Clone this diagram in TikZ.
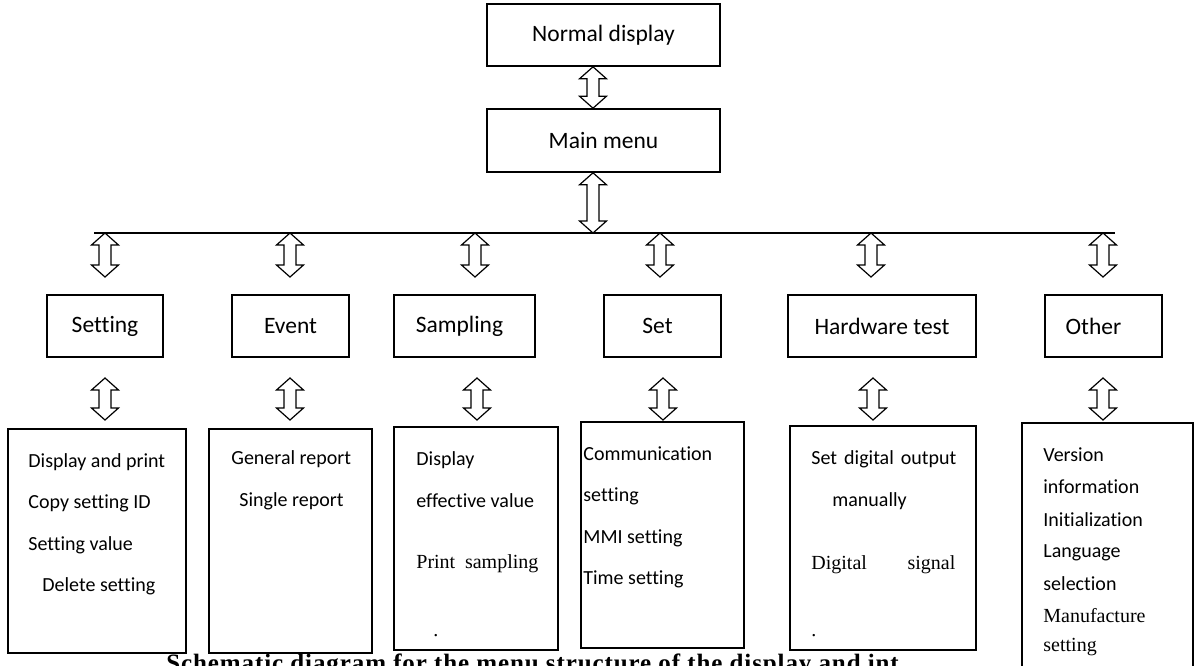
\documentclass[tikz,border=0pt]{standalone}
\usepackage{fontspec}
\setmainfont{Carlito}[Ligatures=NoCommon]
\newfontfamily\serifface{Liberation Serif}
\usetikzlibrary{calc}
\tikzset{
  x=0.5pt, y=-0.5pt,
  box/.style={draw, line width=0.8pt, inner sep=0pt, fill=white, font=\fontsize{11.75}{14}\selectfont},
  subbox/.style={draw, line width=0.8pt, fill=white},
  item/.style={anchor=west, inner sep=0pt, font=\fontsize{10}{12}\selectfont},
  sitem/.style={anchor=west, inner sep=0pt, font=\fontsize{10}{12}\serifface},
  arrowline/.style={draw, line width=0.6pt, fill=white, line join=miter},
  busline/.style={line width=1pt},
}
\newcommand{\dblarrow}[2]{%
  \draw[arrowline] (#1) -- ++(13.5,12) -- ++(-7.5,0) -- ($(#2)+(6,-12)$) -- ++(7.5,0) -- (#2)
    -- ++(-13.5,-12) -- ++(7.5,0) -- ($(#1)+(-6,12)$) -- ++(-7.5,0) -- cycle;}
\begin{document}
\begin{tikzpicture}
\useasboundingbox[fill=white] (0,0) rectangle (1199,665);

% top level
\node[box, minimum width=116.5pt, minimum height=31pt] (nd) at (603.5,35) {Normal display};
\node[box, minimum width=116.5pt, minimum height=31.5pt] (mm) at (603.5,140.5) {Main menu};

\coordinate (a1t) at ($(nd.south)+(-10.5,0)$);
\coordinate (a1b) at ($(mm.north)+(-10.5,0)$);
\dblarrow{a1t}{a1b}

\coordinate (busL) at (94,233);
\coordinate (busR) at (1115,233);
\draw[busline] (busL) -- (busR);

\coordinate (a2t) at ($(mm.south)+(-10.5,0)$);
\coordinate (a2b) at (a2t |- busL);
\dblarrow{a2t}{a2b}

% second level
\node[box, minimum width=58pt, minimum height=31pt] (s1) at (105,326) {Setting};
\node[box, minimum width=58.5pt, minimum height=31pt] (s2) at (290.5,326) {Event};
\node[box, minimum width=70.5pt, minimum height=31pt] (s3) at (464.5,326) {Sampling\hspace*{5pt}};
\node[box, minimum width=58.5pt, minimum height=31pt] (s4) at (662.5,326) {Set\hspace*{5pt}};
\node[box, minimum width=94pt, minimum height=31pt] (s5) at (882,326) {Hardware test};
\node[box, minimum width=58.5pt, minimum height=31pt] (s6) at (1103.5,326) {Other\hspace*{10pt}};

% arrows bus -> second level
\foreach \i/\xx in {1/105, 2/290, 3/475, 4/660, 5/871, 6/1103} {
  \coordinate (bt\i) at (\xx,233);
  \coordinate (bb\i) at (\xx,277);
  \dblarrow{bt\i}{bb\i}
}

% arrows second -> third level
\foreach \i/\xx in {1/105, 2/290, 3/477, 4/663, 5/873, 6/1103} {
  \coordinate (ct\i) at (\xx,378);
  \coordinate (cb\i) at (\xx,420);
  \dblarrow{ct\i}{cb\i}
}

% caption (cut at the bottom of the picture)
\node[anchor=base west, inner sep=0pt,
      font=\fontsize{12.5}{14}\serifface\bfseries\addfontfeature{LetterSpace=3.6}] (cap) at (166,671)
      {Schematic diagram for the menu structure of the display and int};

% third level boxes
\draw[subbox] (8,429) rectangle (186,653);
\draw[subbox] (209,429) rectangle (372,653);
\draw[subbox] (394,427) rectangle (558,650);
\draw[subbox] (581,422) rectangle (744,648);
\draw[subbox] (790,426) rectangle (976,650);
\draw[subbox] (1022,423) rectangle (1193,720);

% Setting items
\node[item] (t11) at (28,462) {Display and print};
\node[item] (t12) at (28,503) {Copy setting ID};
\node[item] (t13) at (28,545) {Setting value};
\node[item] (t14) at (42,586) {Delete setting};

% Event items
\node[item] (t21) at (231,459) {General report};
\node[item] (t22) at (239,501) {Single report};

% Sampling items
\node[item] (t31) at (416,460) {Display};
\node[item] (t32) at (416,501) {effective value};
\node[sitem] (t33) at (416,564) {\makebox[61pt][s]{Print sampling}};
\node[sitem] (t34) at (433,636) {.};

% Set items
\node[item] (t41) at (583,454) {Communication};
\node[item] (t42) at (583,496) {setting};
\node[item] (t43) at (583,538) {MMI setting};
\node[item] (t44) at (583,579) {Time setting};

% Hardware test items
\node[item] (t51) at (811,459) {\makebox[72.5pt][s]{Set digital output}};
\node[item] (t52) at (832,501) {manually};
\node[sitem] (t53) at (811,565) {\makebox[72pt][s]{Digital signal}};
\node[sitem] (t54) at (811,636) {.};

% Other items
\node[item] (t61) at (1043,455) {Version};
\node[item] (t62) at (1043,487) {information};
\node[item] (t63) at (1043,520) {Initialization};
\node[item] (t64) at (1043,553) {Language};
\node[item] (t65) at (1043,584) {selection};
\node[sitem] (t66) at (1043,616) {Manufacture};
\node[sitem] (t67) at (1043,647) {setting};
\end{tikzpicture}
\end{document}
